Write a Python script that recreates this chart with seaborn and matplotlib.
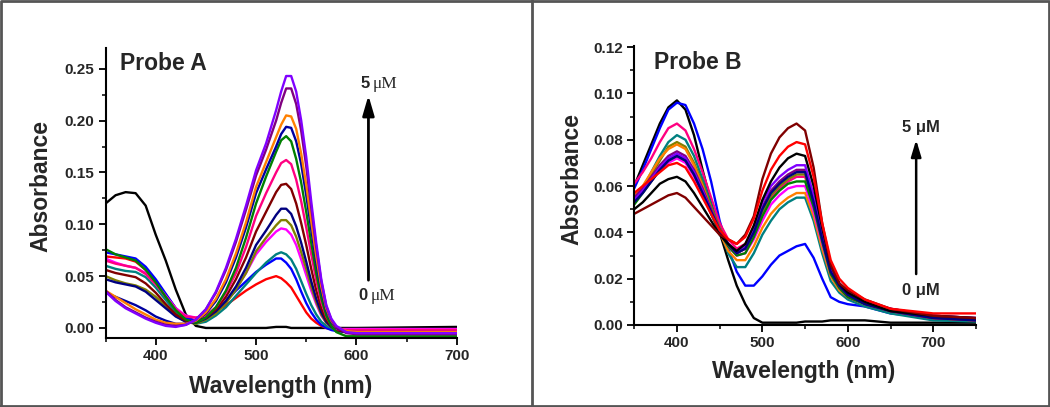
import numpy as np
import pandas as pd
import matplotlib
matplotlib.use("Agg")
import matplotlib.pyplot as plt
import seaborn as sns
from matplotlib.ticker import MultipleLocator, FormatStrFormatter
from matplotlib.lines import Line2D

# ── Data: Probe A (absorbance) ──────────────────────────────────
wl_a = [350, 360, 370, 380, 390, 400, 410, 420, 430, 440, 450, 460, 470, 480, 490,
        500, 510, 520, 525, 530, 535, 540, 545, 550, 555, 560, 565, 570, 575, 580,
        590, 600, 700]

a_black = [0.120, 0.128, 0.131, 0.130, 0.118, 0.090, 0.065, 0.037, 0.013, 0.002, 0.000, 0.000, 0.000, 0.000, 0.000,
           0.000, 0.000, 0.001, 0.001, 0.001, 0.000, 0.000, 0.000, 0.000, 0.000, 0.000, 0.000, 0.000, 0.000, 0.000,
           0.000, 0.000, 0.001]
a_red = [0.069, 0.068, 0.067, 0.064, 0.056, 0.045, 0.032, 0.019, 0.010, 0.007, 0.010, 0.016, 0.022, 0.029, 0.036,
         0.042, 0.047, 0.050, 0.048, 0.044, 0.039, 0.031, 0.023, 0.015, 0.009, 0.005, 0.002, 0.000, -0.001, -0.002,
         -0.003, -0.003, -0.003]
a_blue = [0.073, 0.071, 0.069, 0.067, 0.059, 0.047, 0.033, 0.019, 0.010, 0.007, 0.010, 0.017, 0.026, 0.036, 0.045,
          0.054, 0.061, 0.067, 0.067, 0.063, 0.057, 0.047, 0.035, 0.024, 0.015, 0.008, 0.003, 0.000, -0.002, -0.003,
          -0.004, -0.004, -0.004]
a_teal = [0.060, 0.057, 0.055, 0.054, 0.049, 0.039, 0.027, 0.015, 0.007, 0.004, 0.006, 0.012, 0.020, 0.031, 0.042,
          0.053, 0.063, 0.071, 0.073, 0.071, 0.066, 0.057, 0.045, 0.033, 0.022, 0.013, 0.006, 0.002, 0.000, -0.002,
          -0.003, -0.003, -0.003]
a_magenta = [0.067, 0.063, 0.060, 0.058, 0.053, 0.043, 0.031, 0.019, 0.012, 0.010, 0.012, 0.017, 0.026, 0.038, 0.053,
             0.071, 0.083, 0.093, 0.096, 0.095, 0.090, 0.080, 0.066, 0.051, 0.036, 0.023, 0.012, 0.005, 0.001, -0.001,
             -0.001, -0.001, -0.001]
a_olive = [0.050, 0.046, 0.043, 0.041, 0.037, 0.030, 0.021, 0.012, 0.006, 0.004, 0.008, 0.014, 0.024, 0.037, 0.053,
           0.074, 0.087, 0.099, 0.104, 0.104, 0.099, 0.088, 0.073, 0.057, 0.040, 0.025, 0.013, 0.005, 0.001, -0.002,
           -0.003, -0.003, -0.003]
a_navy = [0.047, 0.044, 0.042, 0.040, 0.035, 0.027, 0.019, 0.011, 0.006, 0.005, 0.009, 0.016, 0.026, 0.040, 0.058,
          0.080, 0.094, 0.109, 0.115, 0.115, 0.110, 0.098, 0.082, 0.064, 0.045, 0.028, 0.015, 0.006, 0.001, -0.002,
          -0.004, -0.004, -0.004]
a_wine = [0.056, 0.053, 0.051, 0.049, 0.043, 0.034, 0.023, 0.013, 0.007, 0.006, 0.010, 0.018, 0.030, 0.047, 0.068,
          0.093, 0.112, 0.131, 0.138, 0.139, 0.134, 0.120, 0.101, 0.080, 0.057, 0.036, 0.019, 0.008, 0.002, -0.002,
          -0.004, -0.004, -0.004]
a_pink = [0.065, 0.062, 0.060, 0.058, 0.052, 0.042, 0.030, 0.018, 0.011, 0.010, 0.012, 0.020, 0.034, 0.053, 0.078,
          0.108, 0.130, 0.150, 0.159, 0.162, 0.158, 0.143, 0.122, 0.097, 0.071, 0.046, 0.025, 0.011, 0.003, -0.001,
          -0.002, -0.002, -0.002]
a_green = [0.076, 0.071, 0.068, 0.065, 0.056, 0.044, 0.030, 0.017, 0.008, 0.005, 0.010, 0.020, 0.036, 0.058, 0.087,
           0.120, 0.146, 0.170, 0.181, 0.185, 0.180, 0.163, 0.140, 0.112, 0.082, 0.053, 0.029, 0.012, 0.002, -0.004,
           -0.008, -0.008, -0.008]
a_royal = [0.034, 0.030, 0.026, 0.022, 0.017, 0.011, 0.007, 0.004, 0.004, 0.007, 0.014, 0.026, 0.044, 0.068, 0.097,
           0.130, 0.153, 0.175, 0.187, 0.194, 0.193, 0.180, 0.158, 0.128, 0.095, 0.063, 0.036, 0.017, 0.006, 0.000,
           -0.004, -0.004, -0.004]
a_orange = [0.036, 0.030, 0.024, 0.018, 0.013, 0.008, 0.005, 0.004, 0.004, 0.007, 0.015, 0.028, 0.047, 0.072, 0.102,
            0.136, 0.160, 0.184, 0.196, 0.205, 0.204, 0.192, 0.168, 0.138, 0.103, 0.069, 0.040, 0.019, 0.007, 0.001,
            -0.003, -0.004, -0.004]
a_purple = [0.036, 0.027, 0.020, 0.015, 0.010, 0.006, 0.003, 0.002, 0.003, 0.008, 0.018, 0.034, 0.056, 0.083, 0.114,
            0.147, 0.172, 0.200, 0.217, 0.231, 0.231, 0.216, 0.190, 0.156, 0.116, 0.078, 0.045, 0.021, 0.008, 0.001,
            -0.005, -0.006, -0.006]
a_violet = [0.035, 0.026, 0.019, 0.014, 0.009, 0.005, 0.002, 0.001, 0.003, 0.008, 0.018, 0.035, 0.058, 0.086, 0.118,
            0.152, 0.178, 0.210, 0.228, 0.243, 0.243, 0.228, 0.200, 0.165, 0.122, 0.082, 0.047, 0.022, 0.009, 0.002,
            -0.004, -0.005, -0.005]

# ── Data: Probe B ───────────────────────────────────────────────
wl_b = [350, 360, 370, 380, 390, 400, 410, 420, 430, 440, 450, 460, 470, 480, 490,
        500, 510, 520, 530, 540, 550, 560, 570, 580, 590, 600, 620, 650, 700, 750]

b_black = [0.060, 0.069, 0.078, 0.087, 0.094, 0.097, 0.093, 0.082, 0.067, 0.053, 0.040, 0.028, 0.017, 0.009, 0.003,
           0.001, 0.001, 0.001, 0.001, 0.001, 0.0015, 0.0015, 0.0015, 0.002, 0.002, 0.002, 0.002, 0.001, 0.001, 0.001]
b_blue = [0.059, 0.067, 0.076, 0.085, 0.093, 0.096, 0.095, 0.087, 0.076, 0.062, 0.045, 0.033, 0.023, 0.017, 0.017,
          0.021, 0.026, 0.030, 0.032, 0.034, 0.035, 0.029, 0.020, 0.012, 0.010, 0.009, 0.008, 0.005, 0.003, 0.002]
b_pink = [0.061, 0.066, 0.072, 0.079, 0.085, 0.087, 0.084, 0.076, 0.066, 0.055, 0.044, 0.037, 0.033, 0.035, 0.041,
          0.049, 0.055, 0.059, 0.062, 0.064, 0.064, 0.052, 0.036, 0.023, 0.017, 0.014, 0.010, 0.007, 0.004, 0.003]
b_teal = [0.053, 0.059, 0.066, 0.073, 0.079, 0.082, 0.080, 0.073, 0.063, 0.052, 0.041, 0.031, 0.025, 0.025, 0.031,
          0.039, 0.045, 0.050, 0.053, 0.055, 0.055, 0.045, 0.031, 0.019, 0.014, 0.011, 0.008, 0.005, 0.002, 0.0015]
b_olive = [0.054, 0.059, 0.065, 0.071, 0.077, 0.079, 0.077, 0.070, 0.061, 0.051, 0.042, 0.035, 0.031, 0.033, 0.040,
           0.049, 0.056, 0.060, 0.063, 0.065, 0.065, 0.053, 0.037, 0.023, 0.017, 0.013, 0.010, 0.006, 0.003, 0.002]
b_orange = [0.056, 0.060, 0.066, 0.072, 0.076, 0.078, 0.076, 0.069, 0.060, 0.050, 0.040, 0.032, 0.028, 0.028, 0.034,
            0.042, 0.048, 0.052, 0.055, 0.057, 0.057, 0.047, 0.033, 0.021, 0.015, 0.012, 0.009, 0.006, 0.003, 0.002]
b_purple = [0.055, 0.059, 0.064, 0.069, 0.073, 0.075, 0.073, 0.067, 0.059, 0.050, 0.041, 0.035, 0.031, 0.033, 0.041,
            0.051, 0.058, 0.062, 0.065, 0.067, 0.067, 0.054, 0.038, 0.024, 0.017, 0.013, 0.010, 0.006, 0.003, 0.002]
b_violet = [0.054, 0.058, 0.063, 0.068, 0.072, 0.074, 0.072, 0.066, 0.058, 0.049, 0.041, 0.035, 0.031, 0.034, 0.042,
            0.053, 0.060, 0.064, 0.067, 0.069, 0.069, 0.056, 0.039, 0.025, 0.018, 0.014, 0.010, 0.007, 0.004, 0.003]
b_magenta = [0.055, 0.058, 0.062, 0.067, 0.070, 0.072, 0.070, 0.064, 0.056, 0.048, 0.040, 0.034, 0.030, 0.031, 0.037,
             0.045, 0.052, 0.056, 0.059, 0.060, 0.060, 0.049, 0.035, 0.022, 0.016, 0.012, 0.009, 0.006, 0.003, 0.002]
b_green = [0.052, 0.057, 0.062, 0.067, 0.071, 0.073, 0.071, 0.065, 0.057, 0.048, 0.040, 0.034, 0.030, 0.031, 0.038,
           0.047, 0.054, 0.058, 0.061, 0.062, 0.062, 0.051, 0.036, 0.022, 0.016, 0.012, 0.009, 0.006, 0.003, 0.002]
b_navy = [0.053, 0.057, 0.062, 0.067, 0.071, 0.073, 0.071, 0.065, 0.057, 0.049, 0.041, 0.035, 0.031, 0.033, 0.040,
          0.050, 0.057, 0.061, 0.064, 0.066, 0.066, 0.053, 0.037, 0.023, 0.017, 0.013, 0.009, 0.006, 0.003, 0.002]
b_black2 = [0.050, 0.053, 0.057, 0.061, 0.063, 0.064, 0.062, 0.057, 0.051, 0.045, 0.039, 0.035, 0.032, 0.035, 0.043,
            0.054, 0.062, 0.068, 0.072, 0.074, 0.073, 0.060, 0.042, 0.026, 0.018, 0.014, 0.010, 0.006, 0.004, 0.003]
b_wine = [0.048, 0.050, 0.052, 0.054, 0.056, 0.057, 0.055, 0.051, 0.047, 0.043, 0.039, 0.037, 0.035, 0.039, 0.047,
          0.063, 0.074, 0.081, 0.085, 0.087, 0.084, 0.068, 0.044, 0.026, 0.018, 0.015, 0.011, 0.007, 0.004, 0.003]
b_red = [0.057, 0.060, 0.063, 0.066, 0.069, 0.070, 0.068, 0.062, 0.055, 0.048, 0.041, 0.037, 0.035, 0.038, 0.046,
         0.058, 0.067, 0.073, 0.077, 0.079, 0.078, 0.064, 0.044, 0.028, 0.020, 0.016, 0.011, 0.007, 0.005, 0.005]

# Origin-style colours
curves_a = [("black", "#000000", a_black), ("red", "#ff0000", a_red), ("blue", "#0000ff", a_blue),
            ("teal", "#008080", a_teal), ("magenta", "#ff00ff", a_magenta), ("olive", "#808000", a_olive),
            ("navy", "#000080", a_navy), ("wine", "#800000", a_wine), ("pink", "#ff0080", a_pink),
            ("green", "#008000", a_green), ("royal", "#0000a0", a_royal), ("orange", "#ff8000", a_orange),
            ("purple", "#800080", a_purple), ("violet", "#8000ff", a_violet)]
curves_b = [("black", "#000000", b_black), ("blue", "#0000ff", b_blue), ("pink", "#ff0080", b_pink),
            ("teal", "#008080", b_teal), ("olive", "#808000", b_olive), ("orange", "#ff8000", b_orange),
            ("magenta", "#ff00ff", b_magenta), ("green", "#008000", b_green), ("purple", "#800080", b_purple),
            ("violet", "#8000ff", b_violet), ("navy", "#000080", b_navy), ("black2", "#000000", b_black2),
            ("wine", "#800000", b_wine), ("red", "#ff0000", b_red)]


def to_long(wl, curves):
    rows = []
    for name, _, vals in curves:
        for w, v in zip(wl, vals):
            rows.append((name, w, v))
    return pd.DataFrame(rows, columns=["curve", "wl", "A"])


sns.set_style("ticks")
plt.rcParams['font.family'] = ['Liberation Sans', 'DejaVu Sans']
plt.rcParams['font.weight'] = 'bold'

fig = plt.figure(figsize=(10.5, 4.07), dpi=100)
ax_a = fig.add_axes([0.1005, 0.1695, 0.3345, 0.7125])
ax_b = fig.add_axes([0.604, 0.2015, 0.3255, 0.6855])


def style_axis(ax):
    sns.despine(ax=ax)
    for s in ("left", "bottom"):
        ax.spines[s].set_linewidth(1.5)
        ax.spines[s].set_color("black")
    ax.tick_params(which="major", direction="out", length=5, width=1.3,
                   labelsize=11, color="black", pad=3)
    ax.tick_params(which="minor", direction="out", length=3, width=1.1, color="black")
    for lab in ax.get_xticklabels() + ax.get_yticklabels():
        lab.set_fontweight("bold")


for ax, wl, curves in [(ax_a, wl_a, curves_a), (ax_b, wl_b, curves_b)]:
    df = to_long(wl, curves)
    pal = {n: c for n, c, _ in curves}
    sns.lineplot(data=df, x="wl", y="A", hue="curve", hue_order=[n for n, _, _ in curves],
                 palette=pal, estimator=None, sort=False, legend=False, lw=1.7, ax=ax)

# panel A axes
ax_a.set_xlim(350, 700)
ax_a.set_ylim(-0.0097, 0.270)
ax_a.xaxis.set_major_locator(MultipleLocator(100))
ax_a.xaxis.set_minor_locator(MultipleLocator(50))
ax_a.yaxis.set_major_locator(MultipleLocator(0.05))
ax_a.yaxis.set_minor_locator(MultipleLocator(0.025))
ax_a.yaxis.set_major_formatter(FormatStrFormatter("%.2f"))
ax_a.set_xticks([400, 500, 600, 700])

# panel B axes
ax_b.set_xlim(350, 750)
ax_b.set_ylim(0, 0.1205)
ax_b.xaxis.set_major_locator(MultipleLocator(100))
ax_b.xaxis.set_minor_locator(MultipleLocator(50))
ax_b.yaxis.set_major_locator(MultipleLocator(0.02))
ax_b.yaxis.set_minor_locator(MultipleLocator(0.01))
ax_b.yaxis.set_major_formatter(FormatStrFormatter("%.2f"))
ax_b.set_xticks([400, 500, 600, 700])

for ax, lx, ly, yx, yy in [(ax_a, 0.499, -0.166, -0.183, 0.524),
                          (ax_b, 0.497, -0.168, -0.181, 0.523)]:
    ax.set_xlabel("Wavelength (nm)", fontsize=16.5, fontweight="bold", va="center")
    ax.set_ylabel("Absorbance", fontsize=16.5, fontweight="bold", va="center")
    ax.xaxis.set_label_coords(lx, ly)
    ax.yaxis.set_label_coords(yx, yy)
    style_axis(ax)

# panel titles
ax_a.text(364, 0.255, "Probe A", fontsize=16.5, fontweight="bold", va="center", ha="left")
ax_b.text(373, 0.1134, "Probe B", fontsize=16.5, fontweight="bold", va="center", ha="left")

# concentration arrows
ax_a.annotate("", xy=(612, 0.227), xytext=(612, 0.0434),
              arrowprops=dict(arrowstyle="-|>,head_length=1.2,head_width=0.35", color="black", lw=2))
ax_a.text(613, 0.2355, "5", fontsize=12, fontweight="bold", ha="right", va="center")
ax_a.text(616.5, 0.2355, "\u03bcM", fontsize=12.5, family="Liberation Serif", fontweight="normal",
          ha="left", va="center")
ax_a.text(611, 0.031, "0", fontsize=12, fontweight="bold", ha="right", va="center")
ax_a.text(614.5, 0.031, "\u03bcM", fontsize=12.5, family="Liberation Serif", fontweight="normal",
          ha="left", va="center")

ax_b.annotate("", xy=(680, 0.0812), xytext=(680, 0.0208),
              arrowprops=dict(arrowstyle="-|>,head_length=1.0,head_width=0.3", color="black", lw=1.8))
ax_b.text(686, 0.0853, "5 \u03bcM", fontsize=12, fontweight="bold", ha="center", va="center")
ax_b.text(686, 0.0151, "0 \u03bcM", fontsize=12, fontweight="bold", ha="center", va="center")

# frame around the figure and divider between panels
frame_kw = dict(color="#555555", lw=2, transform=fig.transFigure)
fig.add_artist(Line2D([0.001, 0.999, 0.999, 0.001, 0.001], [0.002, 0.002, 0.998, 0.998, 0.002], **frame_kw))
fig.add_artist(Line2D([532 / 1050, 532 / 1050], [0.0, 1.0], **frame_kw))

fig.savefig("out.png", dpi=100)
